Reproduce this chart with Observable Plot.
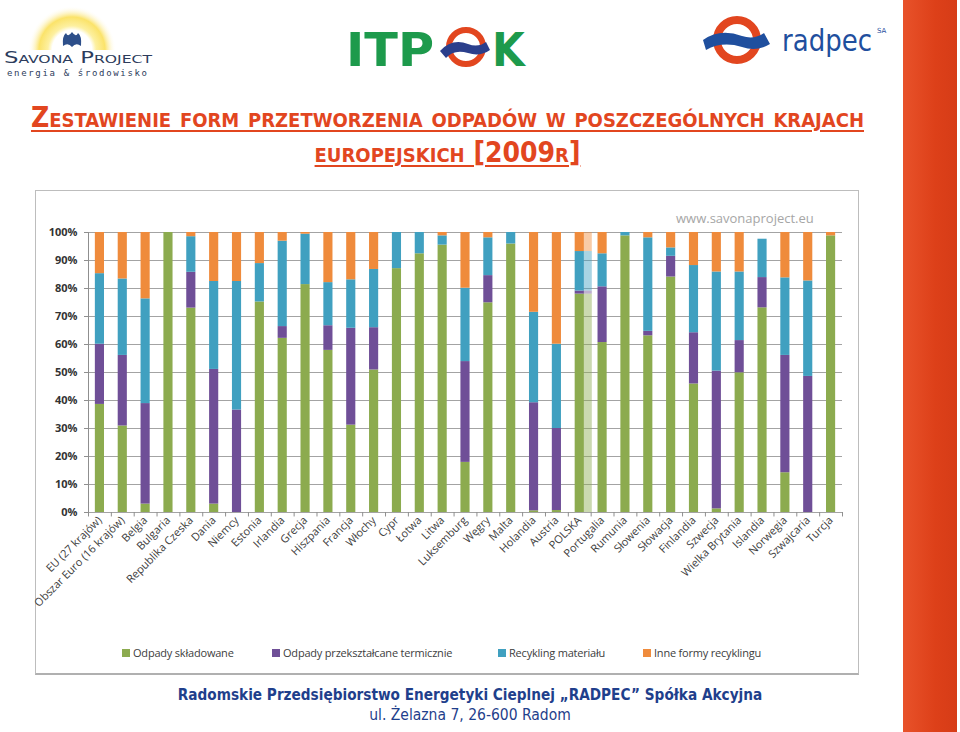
<!DOCTYPE html>
<html><head><meta charset="utf-8">
<script src="https://cdn.jsdelivr.net/npm/d3@7"></script>
<script src="https://cdn.jsdelivr.net/npm/@observablehq/plot@0.6"></script>
<style>
html,body{margin:0;padding:0}
body{width:960px;height:732px;position:relative;background:#fff;overflow:hidden;font-family:"Open Sans",sans-serif}
.abs{position:absolute}
#redbar{left:903px;top:0;width:54px;height:732px;background:linear-gradient(90deg,#e8522a,#dd4019 60%,#d63c17)}
.title{left:20px;width:855px;text-align:center;color:#e2461f;font-family:"DejaVu Sans Condensed","DejaVu Sans",sans-serif;font-weight:bold;font-variant:small-caps;text-decoration:underline;text-decoration-thickness:2px;text-underline-offset:3px;font-size:28px;line-height:32px;white-space:nowrap}
#box{left:35px;top:190px;width:822px;height:482px;border:1px solid #bdbdbd;border-bottom:2px solid #b0b0b0}
#chart{left:35px;top:191px}
#chart svg{overflow:visible}
#wm{left:676px;top:209px;color:#a6a6a6;font-size:13px;font-family:"Open Sans",sans-serif}
.leg{top:645px;font-size:11px;color:#404040;font-family:"Open Sans",sans-serif;white-space:nowrap;letter-spacing:-0.2px}
.leg i{display:inline-block;width:8px;height:8px;margin-right:3px}
#foot1{left:0;width:940px;top:686px;text-align:center;color:#1f3f8c;font-family:"DejaVu Sans Condensed","DejaVu Sans",sans-serif;font-weight:bold;font-size:15.2px;white-space:nowrap}
#foot2{left:0;width:940px;top:706px;text-align:center;color:#1f3f8c;font-family:"DejaVu Sans Condensed","DejaVu Sans",sans-serif;font-size:15.5px;white-space:nowrap}
</style></head><body>
<div id="redbar" class="abs"></div>

<!-- header logos (decorative) -->
<svg class="abs" style="left:0;top:0" width="900" height="88">
  <defs>
    <radialGradient id="sun" cx="0.5" cy="0.5" r="0.5">
      <stop offset="0.45" stop-color="#fff"/>
      <stop offset="0.55" stop-color="#fdf0a0"/>
      <stop offset="0.75" stop-color="#fbe36a"/>
      <stop offset="1" stop-color="#fff" stop-opacity="0"/>
    </radialGradient>
    <clipPath id="sunclip"><rect x="0" y="0" width="170" height="50"/></clipPath>
  </defs>
  <circle cx="72" cy="50" r="44" fill="url(#sun)" clip-path="url(#sunclip)"/>
  <path d="M63 46 Q62 36 66 33 Q68 38 72 32 Q76 38 78 33 Q82 36 81 46 Q76 42 72 47 Q68 42 63 46Z" fill="#2d4f8a"/>
  <text x="4" y="63" font-family="DejaVu Sans Condensed" font-size="16" fill="#2d3c5c" textLength="148" lengthAdjust="spacingAndGlyphs" style="font-variant:small-caps">Savona Project</text>
  <text x="7" y="76" font-family="DejaVu Sans Mono" font-size="9" fill="#2d3c5c" textLength="140" lengthAdjust="spacing">energia &amp; środowisko</text>

  <text x="346" y="66" font-family="DejaVu Sans Condensed" font-weight="bold" font-size="47" fill="#1d9a4c" textLength="88" lengthAdjust="spacingAndGlyphs">ITP</text>
  <circle cx="466" cy="47" r="17" fill="none" stroke="#e2461f" stroke-width="6"/>
  <path d="M440 51 Q452 38 468 44 Q478 48 486 42 L490 50 Q480 57 468 53 Q454 49 446 58Z" fill="#2b3f8c"/>
  <text x="492" y="66" font-family="DejaVu Sans Condensed" font-weight="bold" font-size="47" fill="#1d9a4c">K</text>

  <circle cx="737" cy="40" r="20" fill="none" stroke="#e2461f" stroke-width="8"/>
  <path d="M703 40 Q720 28 742 36 Q754 40 764 33 L770 44 Q757 52 742 47 Q722 41 706 50Z" fill="#1f4f9e"/>
  <text x="782" y="51" font-family="DejaVu Sans Condensed" font-size="31" fill="#1f4f9e" textLength="90" lengthAdjust="spacingAndGlyphs">radpec</text>
  <text x="877" y="33" font-family="DejaVu Sans" font-size="7" fill="#1f4f9e">SA</text>
</svg>

<div class="abs title" style="top:102px">Zestawienie form przetworzenia odpadów w poszczególnych krajach</div>
<div class="abs title" style="top:137px">europejskich [2009r]</div>

<div id="box" class="abs"></div>
<div id="chart" class="abs"></div>
<div id="wm" class="abs">www.savonaproject.eu</div>
<div id="legend"></div>

<div id="foot1" class="abs">Radomskie Przedsiębiorstwo Energetyki Cieplnej „RADPEC” Spółka Akcyjna</div>
<div id="foot2" class="abs">ul. Żelazna 7, 26-600 Radom</div>

<script>
const countries = ["EU (27 krajów)","Obszar Euro (16 krajów)","Belgia","Bulgaria","Republika Czeska","Dania","Niemcy","Estonia","Irlandia","Grecja","Hiszpania","Francja","Włochy","Cypr","Łotwa","Litwa","Luksemburg","Węgry","Malta","Holandia","Austria","POLSKA","Portugalia","Rumunia","Słowenia","Słowacja","Finlandia","Szwecja","Wielka Brytania","Islandia","Norwegia","Szwajcaria","Turcja"];
const landfill      = [38.6,30.9, 3.0,100, 73.0, 3.0, 0.0,75.2,62.2,81.4,57.9,31.2,50.9,87.1,92.4,95.5,17.9,74.9,95.9, 0.6, 0.7,78.0,60.7,98.8,63.1,84.1,45.9, 1.3,49.9,73.1,14.2, 0.0,98.8];
const incineration  = [21.5,25.2,35.9,  0, 12.8,48.1,36.6, 0.0, 4.2, 0.0, 8.8,34.6,15.1, 0.0, 0.0, 0.0,36.0, 9.7, 0.0,38.6,29.3, 1.1,19.9, 0.0, 1.6, 7.4,18.3,49.2,11.5,10.8,41.9,48.6, 0.0];
const recycling     = [25.2,27.3,37.4,  0, 12.7,31.4,45.9,13.7,30.5,18.0,15.4,17.3,20.8,12.9, 7.6, 3.3,26.2,13.5, 4.1,32.3,30.1,14.1,11.8, 1.2,33.4, 3.0,24.0,35.4,24.5,13.7,27.7,34.1, 0.0];
const otherRecycling= [14.7,16.6,23.7,  0,  1.5,17.5,17.5,11.1, 3.1, 0.6,17.9,16.9,13.2, 0.0, 0.0, 1.2,19.9, 1.9, 0.0,28.5,39.9, 6.8, 7.6, 0.0, 1.9, 5.5,11.8,14.1,14.1, 0.0,16.2,17.3, 1.2];
const seriesNames = ["Odpady składowane","Odpady przekształcane termicznie","Recykling materiału","Inne formy recyklingu"];
const seriesColors = ["#8cab4f","#6f4f97","#40a0c0","#ef8b3c"];
const yTicks = [0,10,20,30,40,50,60,70,80,90,100];
const highlighted = ["POLSKA"];

const seriesArrays = [landfill, incineration, recycling, otherRecycling];
const rows = [];
countries.forEach((c, i) => {
  seriesArrays.forEach((arr, k) => {
    if (arr[i] > 0) rows.push({country: c, series: seriesNames[k], value: arr[i]});
  });
});

const W = 822, H = 452, mL = 53, mR = 15;
const step = (W - mL - mR) / countries.length;

const chart = Plot.plot({
  width: W, height: H,
  marginLeft: mL, marginRight: mR, marginTop: 41, marginBottom: 131,
  style: {fontFamily: "Open Sans, sans-serif", fontSize: "11px", color: "#404040", background: "transparent", overflow: "visible"},
  x: {domain: countries, paddingInner: 0.6, paddingOuter: 0.3, round: false, label: null},
  y: {domain: [0, 100], label: null},
  color: {domain: seriesNames, range: seriesColors},
  marks: [
    Plot.ruleY(yTicks, {y: d => d, stroke: "#a3a3a3", strokeWidth: 1.2}),
    Plot.ruleX([countries[0]], {x: d => d, dx: -step / 2, y1: 0, y2: 100, stroke: "#8f8f8f"}),
    Plot.ruleX(countries, {x: d => d, dx: -step / 2, y1: 0, y2: -1.6, stroke: "#8f8f8f"}),
    Plot.ruleX([countries[countries.length - 1]], {x: d => d, dx: step / 2, y1: 0, y2: -1.6, stroke: "#8f8f8f"}),
    Plot.barY(rows.filter(r => highlighted.includes(r.country)), {x: "country", y: "value", fill: "series", dx: 8, fillOpacity: 0.45, ariaLabel: "glow"}),
    Plot.barY(rows, {x: "country", y: "value", fill: "series"}),
    Plot.axisY({ticks: yTicks, tickFormat: d => d + "%", tickSize: 4, tickPadding: 7, stroke: "#8f8f8f", fill: "#333", fontWeight: "bold", label: null}),
    Plot.axisX({tickRotate: -45, tickSize: 0, tickPadding: 6, fill: "#404040", fontSize: 11, label: null})
  ]
});
document.getElementById("chart").appendChild(chart);
const glow = chart.querySelector('[aria-label="glow"]');
if (glow) glow.style.filter = "blur(1.5px)";

// legend
const legX = [122, 272, 498, 643];
const legend = document.getElementById("legend");
seriesNames.forEach((n, k) => {
  const d = document.createElement("div");
  d.className = "abs leg";
  d.style.left = legX[k] + "px";
  d.innerHTML = `<i style="background:${seriesColors[k]}"></i>${n}`;
  legend.appendChild(d);
});
</script>
</body></html>
